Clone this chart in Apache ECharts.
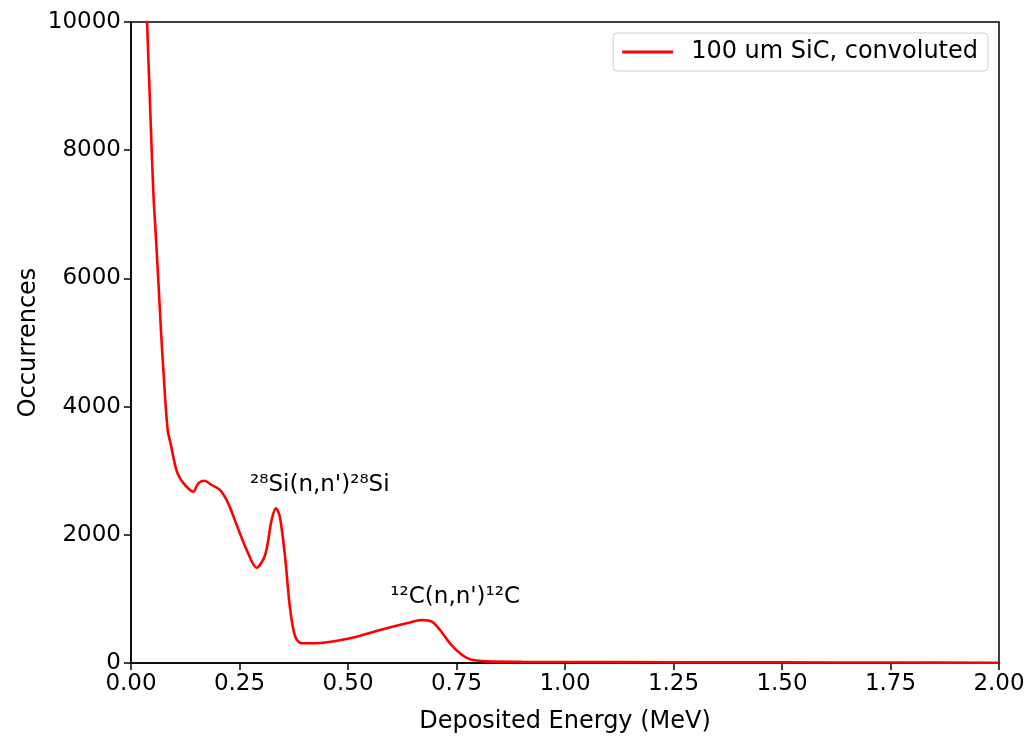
<!DOCTYPE html>
<html>
<head>
<meta charset="utf-8">
<script src="https://cdn.jsdelivr.net/npm/echarts@6/dist/echarts.min.js"></script>
<style>html,body{margin:0;padding:0;background:#fff}#c{width:1031px;height:737px}</style>
</head>
<body>
<div id="c"></div>
<script>
const energy = [0.030,0.037,0.045,0.0514,0.0569,0.0629,0.069,0.076,0.0845,0.0914,0.0975,0.105,0.113,0.128,0.1436,0.155,0.169,0.186,0.205,0.224,0.2435,0.2666,0.2896,0.309,0.324,0.334,0.343,0.355,0.366,0.378,0.393,0.443,0.505,0.574,0.635,0.670,0.693,0.712,0.735,0.758,0.781,0.82,0.9,1.0,1.25,1.5,1.75,2.0];
const occurrences = [11300,10000,8500,7350,6700,5975,5195,4415,3635,3420,3214,3000,2880,2750,2672,2803,2844,2777,2699,2491,2153,1763,1487,1685,2231,2413,2282,1658,878,420,307,317,385,515,619,671,644,515,307,151,58,25,18,15,12,9,7,5];
const seriesName = '100 um SiC, convoluted';
const yTicks = [0, 2000, 4000, 6000, 8000, 10000];
const annotations = [
  {text: '²⁸Si(n,n\')²⁸Si', x: 0.435, y: 2777},
  {text: '¹²C(n,n\')¹²C', x: 0.747, y: 1030}
];
const FONT = 'DejaVu Sans';
const chart = echarts.init(document.getElementById('c'));
chart.setOption({
  backgroundColor: '#fff',
  animation: false,
  textStyle: {fontFamily: FONT},
  grid: {left: 131, right: 32, top: 22, bottom: 74, containLabel: false, outerBoundsMode: 'none',
         show: true, borderColor: '#000', borderWidth: 1.5, backgroundColor: 'transparent'},
  legend: {
    right: 43, top: 33, padding: [7, 10, 7, 9],
    borderColor: '#d0d0d0', borderWidth: 1, borderRadius: 4,
    itemWidth: 51, itemHeight: 3,
    data: [{name: seriesName, icon: 'rect'}],
    textStyle: {fontSize: 24, color: '#000', fontFamily: FONT, padding: [0, 0, 0, 13]}
  },
  xAxis: {
    type: 'value', min: 0, max: 2, interval: 0.25,
    name: 'Deposited Energy (MeV)', nameLocation: 'middle', nameGap: 47,
    nameTextStyle: {fontSize: 24, color: '#000', fontFamily: FONT},
    axisLine: {show: true, lineStyle: {color: '#000', width: 1.5}},
    axisTick: {show: true, length: 7, inside: false, lineStyle: {color: '#000', width: 1.5}},
    axisLabel: {fontSize: 23, color: '#000', margin: 10, fontFamily: FONT, formatter: v => v.toFixed(2)},
    splitLine: {show: false}
  },
  yAxis: {
    type: 'value', min: yTicks[0], max: yTicks[yTicks.length - 1], interval: 2000,
    name: 'Occurrences', nameLocation: 'middle', nameGap: 90, nameMoveOverlap: false,
    nameTextStyle: {fontSize: 24, color: '#000', fontFamily: FONT},
    axisLine: {show: true, lineStyle: {color: '#000', width: 1.5}},
    axisTick: {show: true, length: 7, lineStyle: {color: '#000', width: 1.5}},
    axisLabel: {fontSize: 23, color: '#000', margin: 10, fontFamily: FONT, formatter: v => String(v)},
    splitLine: {show: false}
  },
  series: [{
    name: seriesName, type: 'line',
    data: energy.map((e, i) => [e, occurrences[i]]),
    showSymbol: false, symbol: 'none', smooth: 0.3, clip: true,
    lineStyle: {color: '#ff0000', width: 2.6},
    itemStyle: {color: '#ff0000'},
    markPoint: {
      symbol: 'circle', symbolSize: 0, silent: true,
      label: {show: true, position: 'inside', color: '#000', fontSize: 23, fontFamily: FONT, formatter: p => p.name},
      data: annotations.map(a => ({name: a.text, coord: [a.x, a.y]}))
    }
  }]
});
</script>
</body>
</html>
